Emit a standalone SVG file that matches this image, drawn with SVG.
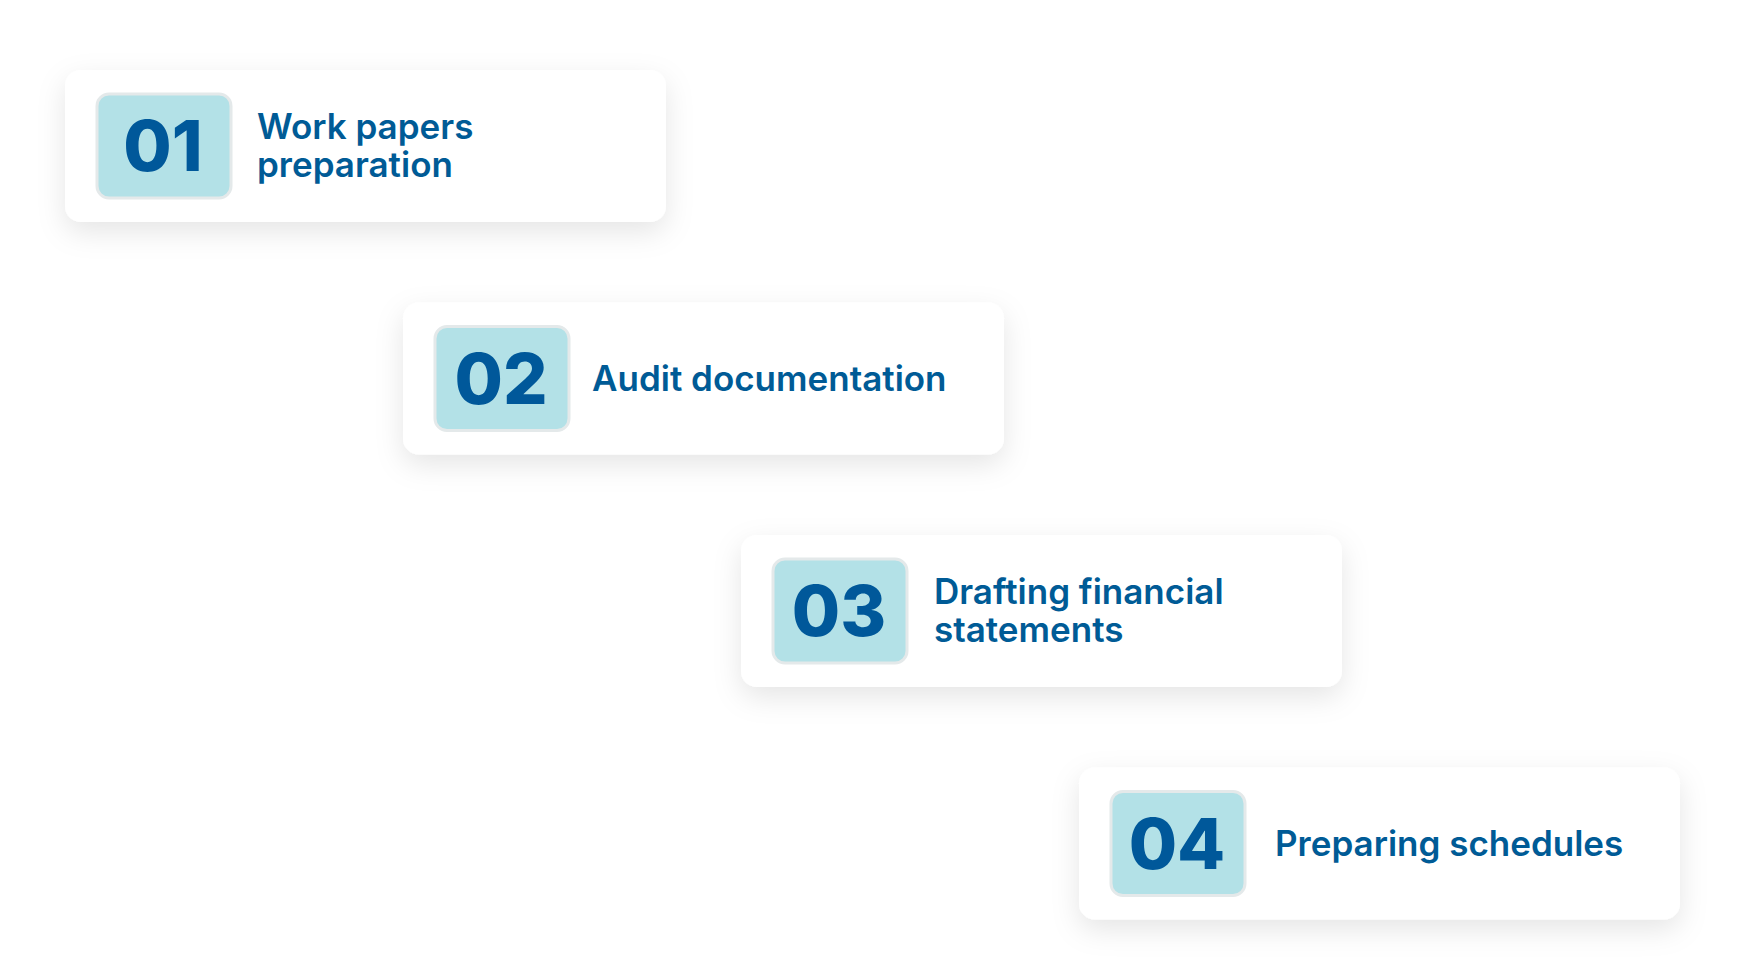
<svg xmlns="http://www.w3.org/2000/svg" width="1742" height="980" viewBox="0 0 1742 980">
<defs>
<filter id="sh" x="-20%" y="-40%" width="140%" height="190%">
<feDropShadow dx="0" dy="10" stdDeviation="14" flood-color="#000" flood-opacity="0.10"/>
</filter>
<style>
.card{fill:#ffffff;filter:url(#sh)}
.badge{fill:#b3e1e7;stroke:#e4e9ea;stroke-width:3}
.num{font-family:Inter,"Liberation Sans",sans-serif;font-weight:800;font-size:70px;fill:#00589a;text-anchor:middle}
.lbl{font-family:Inter,"Liberation Sans",sans-serif;font-weight:600;font-size:35px;fill:#005b96}
</style>
</defs>
<rect width="1742" height="980" fill="#ffffff"/>
<g id="connectors"/>
<g id="node1" transform="translate(65,70)">
<rect class="card" width="601" height="152" rx="16"/>
<rect class="badge" x="32" y="24" width="134" height="104" rx="12"/>
<text class="num" x="98" y="101">01</text>
<text class="lbl" x="192" y="69">Work papers</text>
<text class="lbl" x="192" y="107">preparation</text>
</g>
<g id="node2" transform="translate(403,302.5)">
<rect class="card" width="601" height="152" rx="16"/>
<rect class="badge" x="32" y="24" width="134" height="104" rx="12"/>
<text class="num" x="98" y="101">02</text>
<text class="lbl" x="189" y="88">Audit documentation</text>
</g>
<g id="node3" transform="translate(741,535)">
<rect class="card" width="601" height="152" rx="16"/>
<rect class="badge" x="32" y="24" width="134" height="104" rx="12"/>
<text class="num" x="98" y="101">03</text>
<text class="lbl" x="193" y="69">Drafting financial</text>
<text class="lbl" x="193" y="107">statements</text>
</g>
<g id="node4" transform="translate(1079,767.5)">
<rect class="card" width="601" height="152" rx="16"/>
<rect class="badge" x="32" y="24" width="134" height="104" rx="12"/>
<text class="num" x="98" y="101">04</text>
<text class="lbl" x="196" y="88">Preparing schedules</text>
</g>
</svg>
